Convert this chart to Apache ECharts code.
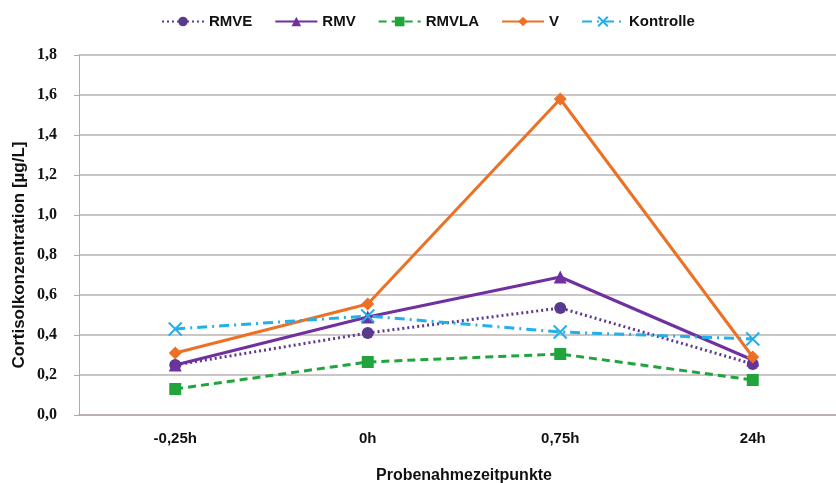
<!DOCTYPE html>
<html><head><meta charset="utf-8">
<script src="https://cdn.jsdelivr.net/npm/echarts@6/dist/echarts.min.js"></script>
<style>html,body{margin:0;padding:0;background:#fff}#c{width:836px;height:483px}</style>
</head><body><div id="c"></div>
<script>
var categories = ['-0,25h', '0h', '0,75h', '24h'];
var seriesNames = ['RMVE', 'RMV', 'RMVLA', 'V', 'Kontrolle'];
var rmve = [0.25, 0.41, 0.535, 0.255];
var rmv = [0.25, 0.49, 0.69, 0.275];
var rmvla = [0.13, 0.265, 0.305, 0.175];
var v = [0.31, 0.555, 1.58, 0.29];
var kontrolle = [0.43, 0.495, 0.415, 0.38];

var FONT = 'Liberation Sans, Arial, sans-serif';
var chart = echarts.init(document.getElementById('c'));
var xPath = 'path://M0,0L10,10M10,0L0,10';
function mk(name, data, color, lineType, symbol, size, extraItem) {
  return {
    name: name, type: 'line', data: data, symbol: symbol, symbolSize: size,
    lineStyle: {color: color, width: 3, type: lineType},
    itemStyle: Object.assign({color: color}, extraItem || {}),
    emphasis: {disabled: true}, z: 2
  };
}
chart.setOption({
  animation: false,
  backgroundColor: '#fff',
  legend: {
    top: 9, left: 156, itemWidth: 42, itemHeight: 12, itemGap: 22,
    textStyle: {fontFamily: FONT, fontWeight: 'bold', fontSize: 15, color: '#111'},
    data: seriesNames
  },
  grid: {left: 79, right: -13, top: 55, bottom: 68, containLabel: false, outerBoundsMode: 'none'},
  xAxis: {
    type: 'category', data: categories, boundaryGap: true,
    axisLine: {lineStyle: {color: '#b5aaaa', width: 1.5}},
    axisTick: {show: false},
    axisLabel: {margin: 16, fontFamily: FONT, fontWeight: 'bold', fontSize: 15, color: '#111'},
    name: 'Probenahmezeitpunkte', nameLocation: 'middle', nameGap: 53,
    nameTextStyle: {fontFamily: FONT, fontWeight: 'bold', fontSize: 16, color: '#111'}
  },
  yAxis: {
    type: 'value', min: 0, max: 1.8, interval: 0.2,
    axisLine: {show: true, lineStyle: {color: '#b5aaaa', width: 1}},
    axisTick: {show: true, length: 5, lineStyle: {color: '#b5aaaa'}},
    splitLine: {lineStyle: {color: '#bdb3b3', width: 1.5}},
    axisLabel: {margin: 22, formatter: function (val) { return val.toFixed(1).replace('.', ','); },
      fontFamily: 'Liberation Serif, serif', fontWeight: 'bold', fontSize: 16, color: '#111'},
    name: 'Cortisolkonzentration [µg/L]', nameLocation: 'middle', nameGap: 51, nameRotate: 90,
    nameMoveOverlap: false,
    nameTextStyle: {fontFamily: FONT, fontWeight: 'bold', fontSize: 17, color: '#111', padding: [0, 40, 0, 0]}
  },
  series: [
    mk('RMVE', rmve, '#5a3a8e', [2, 3], 'circle', 12),
    mk('RMV', rmv, '#7030a0', 'solid', 'triangle', 13),
    mk('RMVLA', rmvla, '#22a43c', [8, 5], 'rect', 12),
    mk('V', v, '#ec7125', 'solid', 'diamond', 13),
    mk('Kontrolle', kontrolle, '#22b0e8', [10, 5, 2, 5], xPath, 13, {borderColor: '#22b0e8', borderWidth: 2})
  ]
});
</script></body></html>
